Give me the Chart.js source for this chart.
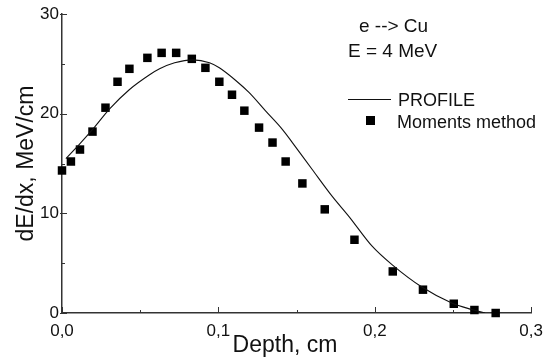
<!DOCTYPE html>
<html>
<head>
<meta charset="utf-8">
<script src="https://cdn.jsdelivr.net/npm/chart.js@4.4.0/dist/chart.umd.min.js"></script>
<style>
  html, body { margin: 0; padding: 0; background: #fff; }
  #wrap { width: 551px; height: 358px; }
</style>
</head>
<body>
<div id="wrap"><canvas id="myChart" width="551" height="358"></canvas></div>
<script>
// PROFILE curve
const profileDepth = [0.0025, 0.0115, 0.02, 0.0306, 0.043, 0.056, 0.0624, 0.072, 0.0836, 0.0943, 0.1006, 0.1113, 0.1197, 0.13, 0.141, 0.1473, 0.16, 0.1728, 0.1834, 0.1983, 0.211, 0.2301, 0.2492, 0.262, 0.2705]
const profileValue = [15.5, 17.0, 18.5, 20.5, 22.4, 23.9, 24.5, 25.1, 25.4, 25.1, 24.6, 23.3, 22.1, 20.3, 18.4, 17.1, 14.4, 11.7, 9.7, 6.7, 4.85, 2.6, 1.0, 0.35, 0.0]

// Moments method points
const momDepth = [0.0, 0.0057, 0.0115, 0.0195, 0.0278, 0.0355, 0.0431, 0.0546, 0.0637, 0.073, 0.083, 0.0917, 0.1006, 0.1087, 0.1166, 0.126, 0.1346, 0.143, 0.1537, 0.168, 0.187, 0.2115, 0.2308, 0.2505, 0.2637, 0.2773]
const momValue = [14.3, 15.2, 16.4, 18.2, 20.6, 23.2, 24.5, 25.6, 26.1, 26.1, 25.5, 24.6, 23.2, 21.9, 20.3, 18.6, 17.1, 15.2, 13.0, 10.4, 7.35, 4.17, 2.34, 0.93, 0.3, 0.0]

const xTicks = [0, 0.1, 0.2, 0.3]
const xTickLabels = ["0,0", "0,1", "0,2", "0,3"]
const xMinor = [0.05, 0.15, 0.25]
const yTicks = [0, 10, 20, 30]
const yTickLabels = ["0", "10", "20", "30"]
const yMinor = [5, 15, 25]

const notes = ["e --> Cu", "E = 4 MeV"]
const xTitle = "Depth, cm"

const FONT = 'Arial, "Liberation Sans", sans-serif'
const INK = '#111'

// tick marks drawn inward from the axis lines
const tickPlugin = {
  id: 'innerTicks',
  afterDraw(chart) {
    const {ctx, scales: {x, y}} = chart
    ctx.save()
    ctx.strokeStyle = '#333'
    ctx.lineWidth = 1
    const bottom = y.getPixelForValue(0)
    const left = x.getPixelForValue(0)
    xTicks.forEach(v => { const px = Math.round(x.getPixelForValue(v)) + 0.5; ctx.beginPath(); ctx.moveTo(px, bottom); ctx.lineTo(px, bottom - 6); ctx.stroke() })
    xMinor.forEach(v => { const px = Math.round(x.getPixelForValue(v)) + 0.5; ctx.beginPath(); ctx.moveTo(px, bottom); ctx.lineTo(px, bottom - 3); ctx.stroke() })
    yTicks.forEach(v => { const py = Math.round(y.getPixelForValue(v)) + 0.5; ctx.beginPath(); ctx.moveTo(left - 2, py); ctx.lineTo(left + 5, py); ctx.stroke() })
    yMinor.forEach(v => { const py = Math.round(y.getPixelForValue(v)) + 0.5; ctx.beginPath(); ctx.moveTo(left, py); ctx.lineTo(left + 3, py); ctx.stroke() })
    ctx.restore()
  }
}

// annotation text, x title and legend inside the plot
const notePlugin = {
  id: 'notes',
  afterDraw(chart) {
    const {ctx} = chart
    const ds = chart.data.datasets
    ctx.save()
    ctx.fillStyle = INK
    ctx.textBaseline = 'middle'
    ctx.font = '19px ' + FONT
    ctx.fillText(notes[0], 359, 27)
    ctx.fillText(notes[1], 348, 52)
    ctx.font = '23px ' + FONT
    ctx.textAlign = 'center'
    ctx.fillText(xTitle, 285, 346)
    ctx.textAlign = 'left'
    ctx.font = '18px ' + FONT
    // PROFILE line sample
    ctx.strokeStyle = ds[0].borderColor
    ctx.lineWidth = 1
    ctx.beginPath(); ctx.moveTo(348, 99.5); ctx.lineTo(391, 99.5); ctx.stroke()
    ctx.fillText(ds[0].label, 398, 101)
    // Moments square
    ctx.fillStyle = ds[1].backgroundColor
    ctx.fillRect(366, 116, 9, 9)
    ctx.fillStyle = INK
    ctx.fillText(ds[1].label, 397, 123)
    ctx.restore()
  }
}

const ctx = document.getElementById('myChart')

window.myChart = new Chart(ctx, {
  type: 'scatter',
  data: {
    datasets: [{
      label: 'PROFILE',
      data: profileDepth.map((d, i) => ({x: d, y: profileValue[i]})),
      showLine: true,
      borderColor: '#111',
      borderWidth: 1.1,
      pointRadius: 0,
      cubicInterpolationMode: 'monotone',
      fill: false
    }, {
      label: 'Moments method',
      data: momDepth.map((d, i) => ({x: d, y: momValue[i]})),
      showLine: false,
      pointStyle: 'rect',
      pointRadius: 6,
      backgroundColor: '#000',
      borderColor: '#000',
      borderWidth: 0,
      clip: false
    }]
  },
  options: {
    responsive: false,
    animation: false,
    events: [],
    layout: { padding: { left: 0, right: 18, top: 14, bottom: 0 } },
    plugins: { legend: { display: false }, tooltip: { enabled: false } },
    scales: {
      x: {
        type: 'linear',
        min: 0, max: 0.3,
        afterFit: s => { s.height = 45 },
        afterBuildTicks: s => { s.ticks = xTicks.map(v => ({value: v})) },
        grid: { display: false, drawTicks: false },
        border: { display: true, color: '#333', width: 1.5 },
        ticks: {
          color: INK, padding: 8,
          font: { family: FONT, size: 17 },
          callback: (v) => xTickLabels[xTicks.indexOf(v)]
        }
      },
      y: {
        type: 'linear',
        min: 0, max: 30,
        afterFit: s => { s.width = 62 },
        afterBuildTicks: s => { s.ticks = yTicks.map(v => ({value: v})) },
        grid: { display: false, drawTicks: false },
        border: { display: true, color: '#333', width: 1.5 },
        ticks: {
          color: INK, padding: 3,
          font: { family: FONT, size: 17 },
          callback: (v) => yTickLabels[yTicks.indexOf(v)]
        },
        title: {
          display: true, text: 'dE/dx, MeV/cm', color: INK,
          font: { family: FONT, size: 23, lineHeight: 1 },
          padding: { top: 15, bottom: 0 }
        }
      }
    }
  },
  plugins: [tickPlugin, notePlugin]
})
ctx.style.backgroundColor = 'white'
</script>
</body>
</html>
